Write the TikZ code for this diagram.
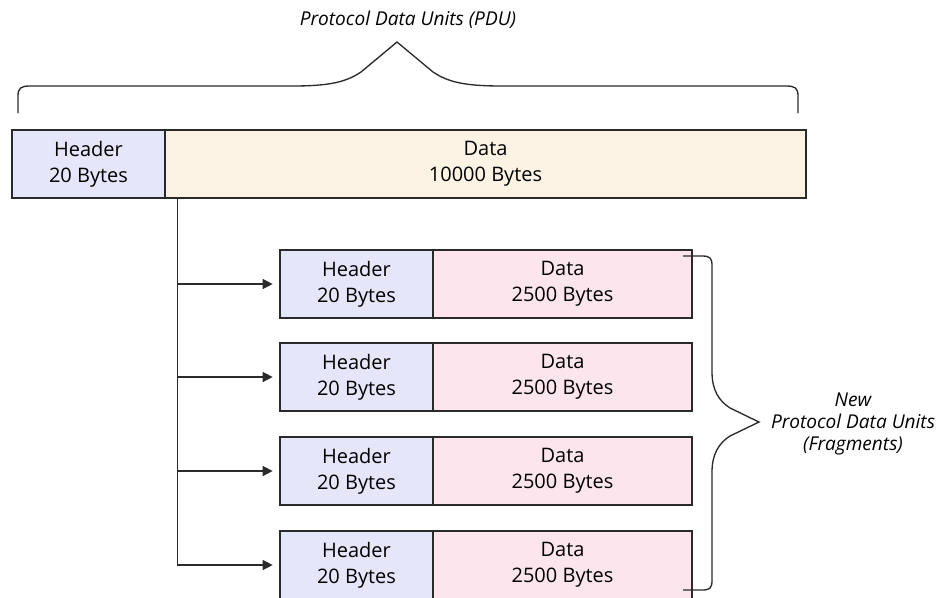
\documentclass[tikz,border=0pt]{standalone}
\usepackage{fontspec}
\setmainfont{Open Sans}
\usetikzlibrary{arrows.meta,positioning,calc}
\definecolor{hdrfill}{HTML}{E6E6FA}
\definecolor{pdufill}{HTML}{FDF3E4}
\definecolor{fragfill}{HTML}{FDE5EE}
\definecolor{ink}{HTML}{2A2A2A}
\tikzstyle{box}=[rectangle,draw=ink,line width=1pt,align=center,minimum height=51pt,inner sep=0pt,font=\fontsize{15}{19.5}\selectfont]
\tikzstyle{hdrbox}=[box,fill=hdrfill,minimum width=114.75pt]
\tikzstyle{pdubox}=[box,fill=pdufill,minimum width=480.75pt]
\tikzstyle{fragbox}=[box,fill=fragfill,minimum width=194.25pt]
\tikzstyle{lbl}=[align=center,font=\fontsize{14.3}{16.2}\selectfont\itshape]
\tikzstyle{feed}=[ink,-{Triangle[length=7.5pt,width=7.5pt]},shorten >=5pt]

\begin{document}
\begin{tikzpicture}[x=0.75pt,y=-0.75pt,line width=1pt,draw=ink]
\useasboundingbox (0,0) rectangle (937,597);

\node (pdu) at (408,20) [lbl] {Protocol Data Units (PDU)};
\node (hdr) at (88.5,164) [hdrbox] {Header\\20 Bytes};
\node (dat) at (485.5,164) [pdubox] {Data\\10000 Bytes};

\node (h1) at (356.5,284) [hdrbox] {Header\\20 Bytes};
\node (d1) at (562.5,284) [fragbox] {Data\\2500 Bytes};
\node (h2) at (356.5,377) [hdrbox] {Header\\20 Bytes};
\node (d2) at (562.5,377) [fragbox] {Data\\2500 Bytes};
\node (h3) at (356.5,471) [hdrbox] {Header\\20 Bytes};
\node (d3) at (562.5,471) [fragbox] {Data\\2500 Bytes};
\node (h4) at (356.5,565) [hdrbox] {Header\\20 Bytes};
\node (d4) at (562.5,565) [fragbox] {Data\\2500 Bytes};

\node (frag) at (853,424) [lbl] {New\\Protocol Data Units\\(Fragments)};

% braces
\draw[ink] (18,113) -- (18,96) .. controls (18,88) and (21,86) .. (30,86)
  -- (292,86) .. controls (330,86) and (346,82) .. (361,72) -- (397,42)
  -- (433,72) .. controls (448,82) and (464,86) .. (502,86)
  -- (786,86) .. controls (795,86) and (798,88) .. (798,96) -- (798,113);
\draw[ink] (683,256) -- (702,256) .. controls (710,256) and (712,258) .. (712,266)
  -- (712,372) .. controls (712,390) and (719,401) .. (730,408) -- (759,422)
  -- (730,436) .. controls (719,443) and (712,454) .. (712,472)
  -- (712,580) .. controls (712,588) and (710,590) .. (702,590) -- (683,590);

% split
\coordinate (split) at ($(dat.south west)+(13,0)$);
\draw[feed] (split) |- (h4.west);
\draw[feed] (split |- h1.west) -- (h1.west);
\draw[feed] (split |- h2.west) -- (h2.west);
\draw[feed] (split |- h3.west) -- (h3.west);
\end{tikzpicture}
\end{document}
